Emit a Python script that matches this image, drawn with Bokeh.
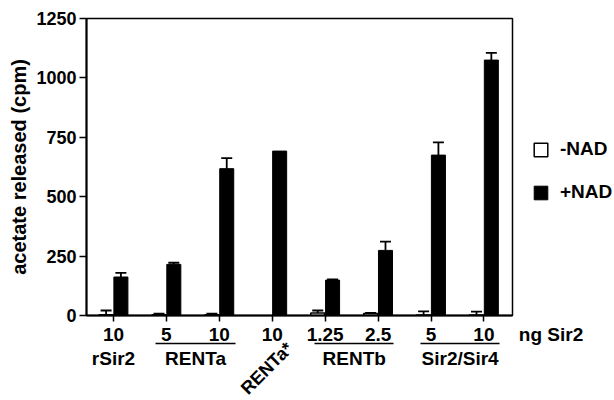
import numpy as np
from bokeh.plotting import figure
from bokeh.models import (ColumnDataSource, Range1d, FixedTicker, Whisker, TeeHead,
                          Label, LinearAxis, Legend, LegendItem)
from bokeh.embed import file_html
from bokeh.resources import INLINE

# ---- data ----
doses = ["10", "5", "10", "10", "1.25", "2.5", "5", "10"]
minus_nad = [3, 3, 3, np.nan, 10, 8, 2, 2]
minus_err = [18, 5, 5, np.nan, 11, 3, 15, 14]
plus_nad = [162, 215, 618, 692, 149, 274, 675, 1075]
plus_err = [17, 7, 44, np.nan, 3, 37, 54, 30]
groups = ["rSir2", "RENTa", "RENTa*", "RENTb", "Sir2/Sir4"]
group_span = [(0, 0), (1, 2), (3, 3), (4, 5), (6, 7)]
y_ticks = [0, 250, 500, 750, 1000, 1250]
y_label = "acetate released (cpm)"
x_unit = "ng Sir2"
series_names = ["-NAD", "+NAD"]

FONT = "Liberation Sans"
Y_MAX = 1250
FRAME_H = 297
def below(px):
    return -px * Y_MAX / FRAME_H

pos = np.arange(len(doses))
off = 0.14
bw = 0.265

p = figure(frame_width=426, frame_height=FRAME_H, output_backend="svg", toolbar_location=None,
           x_range=Range1d(-0.51, 7.54), y_range=Range1d(0, Y_MAX),
           min_border_left=86, min_border_right=92, min_border_top=18, min_border_bottom=70)
p.grid.visible = False
p.outline_line_color = "black"
p.outline_line_width = 1.5

mm = np.array(minus_nad, dtype=float)
me = np.array(minus_err, dtype=float)
pm = np.array(plus_nad, dtype=float)
pe = np.array(plus_err, dtype=float)
k = ~np.isnan(mm)
src_m = ColumnDataSource(dict(x=pos[k] - off, top=mm[k], up=(mm + me)[k]))
src_p = ColumnDataSource(dict(x=pos + off, top=pm))
k2 = ~np.isnan(pe)
src_pe = ColumnDataSource(dict(x=(pos + off)[k2], top=pm[k2], up=(pm + pe)[k2]))

r_m = p.vbar(x="x", top="top", bottom=0, width=bw, source=src_m,
             fill_color="white", line_color="black", line_width=1.5)
r_p = p.vbar(x="x", top="top", bottom=0, width=bw, source=src_p,
             fill_color="black", line_color="black", line_width=1)

for src in (src_m, src_pe):
    p.add_layout(Whisker(base="x", lower="top", upper="up", source=src, line_width=1.8,
                         line_color="black", lower_head=None,
                         upper_head=TeeHead(size=11, line_width=1.8, line_color="black")))

p.yaxis.ticker = FixedTicker(ticks=y_ticks)
p.yaxis.minor_tick_line_color = None
p.yaxis.major_tick_in = 0
p.yaxis.major_tick_out = 7
p.yaxis.major_tick_line_width = 1.5
p.yaxis.axis_line_width = 2
p.yaxis.major_label_text_font = FONT
p.yaxis.major_label_text_font_style = "bold"
p.yaxis.major_label_text_font_size = "18px"
p.yaxis.major_label_text_color = "black"
p.yaxis.major_label_standoff = 3
p.yaxis.axis_label = y_label
p.yaxis.axis_label_text_font = FONT
p.yaxis.axis_label_text_font_style = "bold"
p.yaxis.axis_label_text_font_size = "20px"
p.yaxis.axis_label_text_color = "black"
p.yaxis.axis_label_standoff = 3

p.xaxis.ticker = FixedTicker(ticks=list(pos))
p.xaxis.major_label_overrides = {int(i): d for i, d in zip(pos, doses)}
p.xaxis.minor_tick_line_color = None
p.xaxis.major_tick_in = 0
p.xaxis.major_tick_out = 6
p.xaxis.major_tick_line_width = 1.5
p.xaxis.axis_line_width = 2
p.xaxis.major_label_text_font = FONT
p.xaxis.major_label_text_font_style = "bold"
p.xaxis.major_label_text_font_size = "19px"
p.xaxis.major_label_text_color = "black"
p.xaxis.major_label_standoff = 6

# group underlines: bounded axes stacked directly under the main x axis
for g, (a, b) in zip(groups, group_span):
    if a != b:
        ax = LinearAxis(bounds=(a - 0.2, b + 0.3), ticker=FixedTicker(ticks=[]),
                        major_tick_out=0, major_tick_in=0, minor_tick_out=0, minor_tick_in=0,
                        major_label_standoff=0, axis_line_width=1.5, axis_line_color="black",
                        major_label_text_font_size="0px", axis_label=None)
        p.add_layout(ax, "below")

def lab(**kw):
    return Label(text_font=FONT, text_font_style="bold", text_font_size="19px",
                 text_color="black", **kw)

p.add_layout(lab(x=7.66, y=below(19), text=x_unit, text_align="left", text_baseline="middle"), "below")

for g, (a, b) in zip(groups, group_span):
    if a == b and g.endswith("*"):
        p.add_layout(Label(x=a + 0.33, y=below(30), text=g, angle=np.pi / 4,
                           text_align="right", text_baseline="middle",
                           text_font=FONT, text_font_style="bold", text_font_size="18px",
                           text_color="black"), "below")
        continue
    cx = a if a == b else ((a - 0.2) + (b + 0.3)) / 2
    p.add_layout(lab(x=cx, y=below(43), text=g, text_align="center", text_baseline="middle"), "below")

legend = Legend(items=[LegendItem(label=series_names[0], renderers=[r_m]),
                       LegendItem(label=series_names[1], renderers=[r_p])],
                location=(20, 112), orientation="vertical",
                border_line_color=None, background_fill_alpha=0,
                padding=0, margin=0, spacing=21, glyph_width=17, glyph_height=17,
                label_height=21, label_standoff=11,
                label_text_font=FONT, label_text_font_style="bold",
                label_text_font_size="19px", label_text_color="black")
p.add_layout(legend, "right")

open("out.html", "w").write(file_html(p, INLINE))
